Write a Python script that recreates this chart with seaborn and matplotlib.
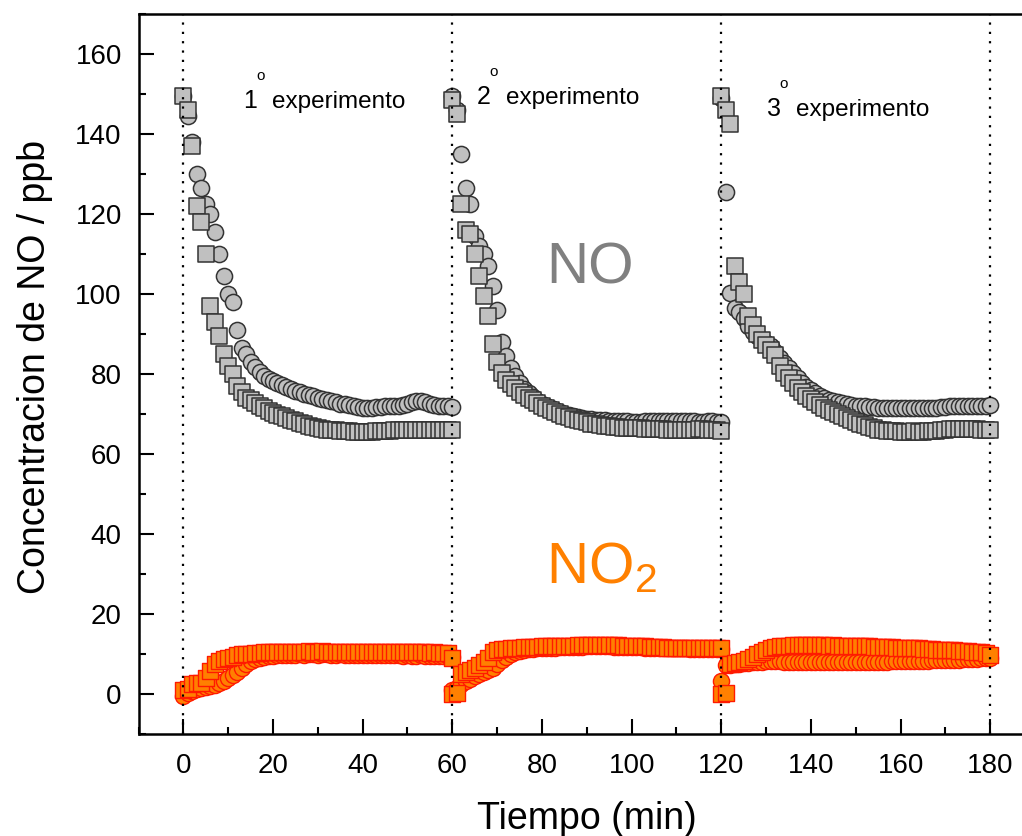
import matplotlib
matplotlib.use("Agg")
import matplotlib.pyplot as plt
import seaborn as sns
import numpy as np
from matplotlib.ticker import MultipleLocator

# start time (min) of each experiment, one reading per minute
exp_starts = [0, 60, 120]
exp_labels = ["1", "2", "3"]

# NO, squares
no_sq_1 = [149.5, 146.0, 137.0, 122.0, 118.0, 110.0, 97.0, 93.0, 89.5, 85.0,
           82.0, 80.0, 77.0, 75.5, 74.0, 73.5, 72.8, 72.0, 71.4, 70.8,
           70.3, 69.8, 69.4, 69.0, 68.6, 68.2, 67.8, 67.4, 67.0, 66.7,
           66.5, 66.3, 66.1, 66.0, 65.9, 65.8, 65.7, 65.7, 65.6, 65.6,
           65.6, 65.6, 65.6, 65.7, 65.7, 65.8, 65.8, 65.9, 65.9, 66.0,
           66.0, 66.0, 66.0, 66.1, 66.1, 66.1, 66.0, 66.0, 66.1, 66.1, 66.0]
no_sq_2 = [148.5, 145.0, 122.5, 116.0, 115.0, 110.0, 104.5, 99.5, 94.5, 87.5,
           83.0, 80.2, 78.6, 77.5, 76.5, 75.6, 74.8, 74.1, 73.4, 72.7,
           72.0, 71.4, 70.9, 70.4, 70.0, 69.6, 69.2, 68.8, 68.5, 68.2,
           67.9, 67.6, 67.4, 67.2, 67.0, 66.9, 66.8, 66.7, 66.6, 66.5,
           66.5, 66.4, 66.4, 66.3, 66.3, 66.2, 66.2, 66.2, 66.1, 66.1,
           66.1, 66.1, 66.0, 66.1, 66.1, 66.2, 66.2, 66.1, 66.0, 66.0, 65.8]
no_sq_3 = [149.5, 146.0, 142.5, 107.0, 103.0, 100.0, 94.5, 92.3, 90.0, 88.5,
           87.3, 86.0, 84.8, 82.0, 80.3, 79.0, 77.8, 76.6, 75.6, 74.6,
           73.7, 72.9, 72.2, 71.6, 71.1, 70.6, 70.0, 69.5, 69.0, 68.5,
           68.1, 67.6, 67.2, 66.8, 66.4, 66.1, 65.9, 65.8, 65.7, 65.7,
           65.6, 65.6, 65.6, 65.7, 65.6, 65.6, 65.7, 65.7, 65.8, 65.9,
           66.1, 66.2, 66.2, 66.3, 66.3, 66.2, 66.2, 66.2, 66.1, 66.1, 66.0]

# NO, circles
no_ci_1 = [149.5, 144.5, 138.0, 130.0, 126.5, 122.5, 120.0, 115.5, 110.0, 104.5,
           100.0, 98.0, 91.0, 86.5, 85.0, 83.0, 81.8, 80.6, 79.5, 78.8,
           78.3, 77.8, 77.2, 76.7, 76.2, 75.8, 75.4, 75.0, 74.7, 74.4,
           74.1, 73.8, 73.5, 73.2, 72.9, 72.6, 72.4, 72.2, 72.0, 71.8,
           71.6, 71.6, 71.6, 71.7, 71.8, 71.9, 72.0, 72.0, 72.1, 72.3,
           72.6, 72.9, 73.2, 73.3, 73.0, 72.6, 72.3, 72.1, 72.0, 71.9, 71.8]
no_ci_2 = [149.5, 146.0, 135.0, 126.5, 122.5, 114.5, 112.0, 110.0, 107.0, 102.0,
           96.0, 88.0, 84.5, 81.5, 79.5, 77.8, 76.3, 75.2, 74.2, 73.3,
           72.6, 72.0, 71.4, 70.9, 70.5, 70.1, 69.8, 69.5, 69.2, 69.0,
           68.8, 68.7, 68.6, 68.5, 68.4, 68.3, 68.3, 68.2, 68.2, 68.2,
           68.1, 68.1, 68.1, 68.2, 68.2, 68.2, 68.3, 68.3, 68.2, 68.2,
           68.2, 68.3, 68.3, 68.2, 68.2, 68.1, 68.1, 68.2, 68.2, 68.1, 68.0]
no_ci_3 = [149.0, 125.5, 100.3, 96.5, 95.5, 94.0, 92.0, 90.5, 89.5, 88.5,
           87.8, 87.0, 85.5, 84.0, 82.8, 81.5, 80.2, 79.0, 77.8, 76.8,
           75.9, 75.2, 74.6, 74.0, 73.6, 73.2, 72.9, 72.7, 72.5, 72.3,
           72.1, 72.0, 71.9, 71.8, 71.7, 71.6, 71.6, 71.5, 71.5, 71.4,
           71.4, 71.4, 71.4, 71.5, 71.5, 71.5, 71.5, 71.6, 71.6, 71.7,
           71.8, 71.9, 71.9, 72.0, 72.0, 72.0, 72.0, 72.1, 72.1, 72.1, 72.2]

# NO2, squares
no2_sq_1 = [1.0, 1.3, 2.6, 2.8, 2.7, 4.0, 5.7, 7.5, 8.3, 8.7,
            9.0, 9.3, 9.7, 9.9, 10.0, 10.1, 10.2, 10.3, 10.4, 10.4,
            10.5, 10.5, 10.6, 10.5, 10.6, 10.6, 10.5, 10.6, 10.7, 10.6,
            10.6, 10.7, 10.6, 10.6, 10.5, 10.6, 10.6, 10.5, 10.5, 10.6,
            10.5, 10.5, 10.6, 10.5, 10.5, 10.4, 10.5, 10.5, 10.4, 10.5,
            10.4, 10.4, 10.5, 10.4, 10.4, 10.3, 10.4, 10.3, 10.3, 10.2, 9.0]
no2_sq_2 = [0.0, 0.2, 5.0, 5.6, 6.0, 6.6, 7.3, 8.0, 9.0, 10.5,
            11.0, 11.2, 11.3, 11.4, 11.5, 11.6, 11.7, 11.7, 11.8, 11.8,
            11.9, 11.9, 12.0, 12.0, 12.0, 12.1, 12.1, 12.1, 12.2, 12.2,
            12.2, 12.2, 12.3, 12.3, 12.2, 12.3, 12.2, 12.2, 12.1, 12.1,
            12.0, 12.0, 11.9, 11.9, 11.8, 11.8, 11.7, 11.7, 11.6, 11.6,
            11.5, 11.4, 11.4, 11.5, 11.4, 11.4, 11.5, 11.5, 11.5, 11.4, 11.5]
no2_sq_3 = [0.0, 0.3, 7.5, 7.7, 8.0, 8.3, 8.8, 9.3, 9.9, 10.6,
            11.1, 11.5, 11.7, 11.9, 12.0, 12.1, 12.2, 12.2, 12.2, 12.2,
            12.2, 12.2, 12.2, 12.2, 12.1, 12.2, 12.1, 12.1, 12.1, 12.0,
            12.0, 12.0, 11.9, 11.9, 11.8, 11.8, 11.7, 11.7, 11.7, 11.6,
            11.6, 11.5, 11.5, 11.4, 11.4, 11.3, 11.3, 11.2, 11.1, 11.1,
            11.0, 10.9, 10.9, 10.8, 10.7, 10.7, 10.6, 10.5, 10.4, 10.3, 9.8]

# NO2, circles
no2_ci_1 = [-0.5, 0.2, 0.8, 1.2, 1.5, 1.8, 2.0, 2.3, 2.7, 3.3,
            4.0, 4.8, 5.6, 6.6, 7.5, 8.2, 8.7, 9.0, 9.3, 9.5,
            9.6, 9.7, 9.7, 9.8, 9.8, 9.8, 9.9, 9.8, 9.9, 9.9,
            9.8, 9.9, 9.9, 9.8, 9.8, 9.9, 9.8, 9.8, 9.8, 9.7,
            9.8, 9.7, 9.8, 9.7, 9.7, 9.7, 9.8, 9.7, 9.7, 9.6,
            9.7, 9.6, 9.6, 9.7, 9.6, 9.6, 9.5, 9.6, 9.5, 9.5, 9.3]
no2_ci_2 = [1.0, 1.5, 2.5, 3.2, 3.8, 4.4, 5.0, 5.6, 6.1, 6.5,
            7.5, 8.5, 9.3, 10.0, 10.5, 10.8, 11.0, 11.2, 11.3, 11.4,
            11.5, 11.5, 11.6, 11.6, 11.7, 11.7, 11.7, 11.8, 11.8, 11.8,
            11.9, 11.9, 11.9, 11.9, 11.9, 11.9, 11.8, 11.8, 11.8, 11.8,
            11.7, 11.7, 11.7, 11.6, 11.6, 11.6, 11.5, 11.5, 11.5, 11.4,
            11.4, 11.4, 11.4, 11.3, 11.3, 11.3, 11.3, 11.3, 11.3, 11.3, 11.3]
no2_ci_3 = [3.3, 7.3, 7.3, 7.5, 7.6, 7.7, 7.8, 7.9, 8.0, 8.1,
            8.2, 8.2, 8.2, 8.2, 8.1, 8.1, 8.1, 8.0, 8.0, 8.0,
            8.0, 8.0, 7.9, 7.9, 7.9, 7.9, 8.0, 8.0, 8.0, 8.0,
            8.0, 8.0, 8.0, 8.1, 8.1, 8.1, 8.1, 8.1, 8.2, 8.2,
            8.2, 8.2, 8.2, 8.3, 8.3, 8.3, 8.3, 8.4, 8.4, 8.4,
            8.5, 8.5, 8.6, 8.6, 8.7, 8.7, 8.8, 8.8, 8.9, 9.0, 9.1]

no_sq = [no_sq_1, no_sq_2, no_sq_3]
no_ci = [no_ci_1, no_ci_2, no_ci_3]
no2_sq = [no2_sq_1, no2_sq_2, no2_sq_3]
no2_ci = [no2_ci_1, no2_ci_2, no2_ci_3]

sns.set_style("ticks")
plt.rcParams["font.family"] = ["Liberation Sans", "DejaVu Sans"]
plt.rcParams["text.color"] = "black"
plt.rcParams["axes.labelcolor"] = "black"
plt.rcParams["xtick.color"] = "black"
plt.rcParams["ytick.color"] = "black"

fig = plt.figure(figsize=(10.22, 8.36), dpi=100)
ax = fig.add_axes([138.5 / 1022, 102 / 836, 896.6 / 1022, 720 / 836])

gray = dict(color="#c0c0c0", edgecolor="#333333", linewidth=1.1)
orange = dict(color="#ff8000", edgecolor="#ff1a00", linewidth=1.0)

for start, ci, sq in zip(exp_starts, no_ci, no_sq):
    t = start + np.arange(len(ci))
    sns.scatterplot(x=t, y=ci, marker="o", s=135, ax=ax, zorder=3, **gray)
    sns.scatterplot(x=t, y=sq, marker="s", s=120, ax=ax, zorder=3, **gray)

for start, ci, sq in zip(exp_starts, no2_ci, no2_sq):
    t = start + np.arange(len(ci))
    sns.scatterplot(x=t, y=ci, marker="o", s=135, ax=ax, zorder=3, **orange)
    sns.scatterplot(x=t, y=sq, marker="s", s=120, ax=ax, zorder=3, **orange)

# dotted markers at the start of each experiment
for x in exp_starts + [180]:
    ax.axvline(x, color="black", lw=1.6, ls=(0, (1, 3.2)), zorder=5)

# experiment labels
lab_x = [13.3, 65.4, 130.1]
lab_y = [146.5, 147.4, 144.4]
for num, x, y in zip(exp_labels, lab_x, lab_y):
    ax.text(x, y, num, fontsize=18, va="baseline")
    ax.text(x + 2.9, y + 7.0, "o", fontsize=11, va="baseline")
    ax.text(x + 6.5, y, "experimento", fontsize=17.5, va="baseline")

ax.text(81.0, 102.7, "NO", fontsize=42, color="#808080", va="baseline")
ax.text(81.0, 27.7, r"NO$_\mathregular{2}$", fontsize=42, color="#ff8000", va="baseline")

ax.set_xlim(-10, 190)
ax.set_ylim(-10, 170)
ax.xaxis.set_major_locator(MultipleLocator(20))
ax.xaxis.set_minor_locator(MultipleLocator(10))
ax.yaxis.set_major_locator(MultipleLocator(20))
ax.yaxis.set_minor_locator(MultipleLocator(10))
ax.set_xticks(np.arange(0, 181, 20))

ax.tick_params(which="both", direction="in", top=False, right=False, width=1.5,
               color="black", labelcolor="black")
ax.tick_params(which="major", length=11, labelsize=20)
ax.tick_params(which="minor", length=5)
ax.tick_params(axis="x", pad=14)
ax.tick_params(axis="y", pad=12)

for side in ["left", "bottom", "top"]:
    ax.spines[side].set_linewidth(1.8)
    ax.spines[side].set_color("black")
ax.spines["right"].set_visible(False)

ax.set_xlabel("Tiempo (min)", fontsize=27, color="black")
ax.set_ylabel("Concentracion de NO / ppb", fontsize=27, color="black")
ax.xaxis.set_label_coords(0.5, -0.093)
ax.yaxis.set_label_coords(-0.095, 0.51)

fig.savefig("out.png", dpi=100)
